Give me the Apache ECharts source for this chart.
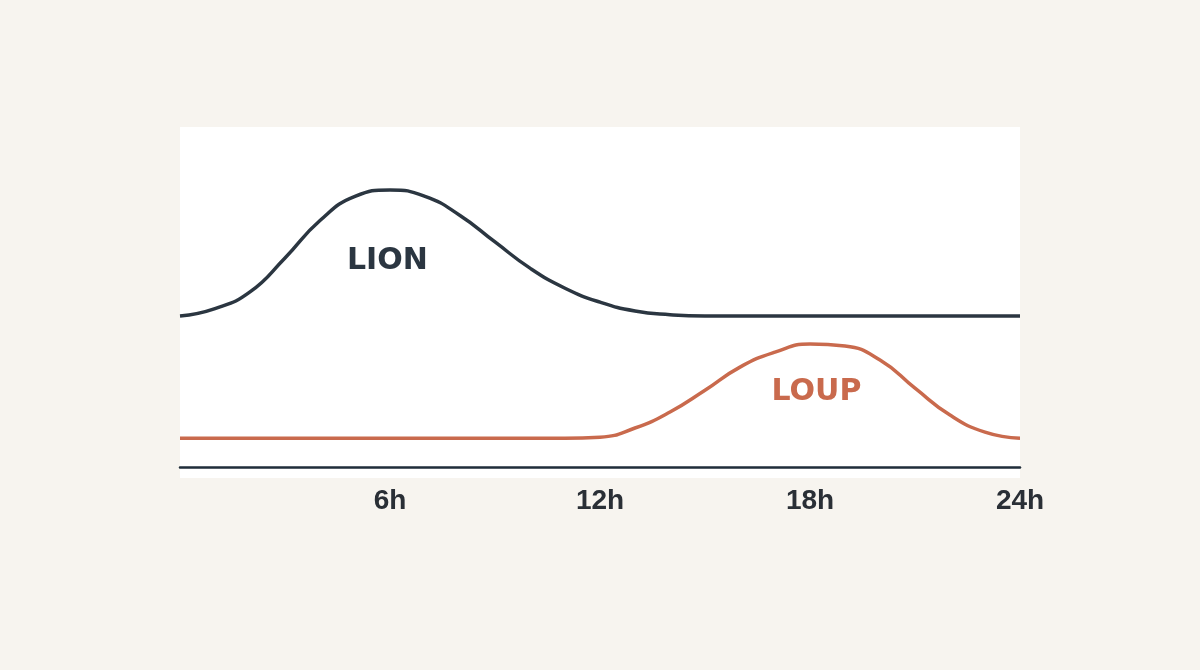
<!DOCTYPE html>
<html>
<head>
<meta charset="utf-8">
<style>
  html, body { margin: 0; padding: 0; background: #f7f4ef; }
  #chart { width: 1200px; height: 670px; }
</style>
<script src="https://cdn.jsdelivr.net/npm/echarts@6/dist/echarts.min.js"></script>
</head>
<body>
<div id="chart"></div>
<script>
// Hours of the day
const hours = [0,1,2,3,4,5,6,7,8,9,10,11,12,13,14,15,16,17,18,19,20,21,22,23,24];
// Activity level (arbitrary units) — lion (dark) and wolf (orange)
const lionValues = [44.4,46.6,51.5,61.5,72.5,79.6,81.5,79.6,74.0,66.2,58.5,52.6,48.5,45.9,44.8,44.4,44.4,44.4,44.4,44.4,44.4,44.4,44.4,44.4,44.4];
const loupValues = [8.5,8.5,8.5,8.5,8.5,8.5,8.5,8.5,8.5,8.5,8.5,8.5,8.8,11.5,16.2,22.6,29.4,33.8,36.2,35.6,31.5,23.2,15.3,10.3,8.5];
// Tick labels
const tickValues = [6, 12, 18, 24];
const tickSuffix = 'h';
// Series name labels placed in data space
const seriesLabels = ['LION', 'LOUP'];
const labelHours = [5.94, 18.2];
const labelLevels = [60.5, 22.0];

const lionColor = '#2b3641';
const loupColor = '#c96a4d';

const chart = echarts.init(document.getElementById('chart'), null, { renderer: 'canvas' });

const option = {
  backgroundColor: '#f7f4ef',
  animation: false,
  grid: {
    left: 180, right: 180, top: 127, bottom: 192,
    show: true, backgroundColor: '#ffffff', borderWidth: 0
  },
  xAxis: {
    type: 'value',
    min: 0, max: 24, interval: 6,
    axisLine: { show: true, onZero: true, lineStyle: { color: '#1f2d3a', width: 2.5 } },
    axisTick: { show: false },
    splitLine: { show: false },
    axisLabel: {
      margin: 9,
      fontFamily: 'Liberation Sans',
      fontWeight: 'bold',
      fontSize: 28,
      color: '#2a2f36',
      formatter: function (v) { return tickValues.indexOf(v) >= 0 ? v + tickSuffix : ''; }
    }
  },
  yAxis: {
    type: 'value',
    min: -3.2, max: 100,
    show: false,
    splitLine: { show: false }
  },
  series: [
    {
      name: 'LION',
      type: 'line',
      data: hours.map((h, i) => [h, lionValues[i]]),
      smooth: 0.5,
      showSymbol: false,
      lineStyle: { color: lionColor, width: 3.5 },
      silent: true
    },
    {
      name: 'LOUP',
      type: 'line',
      data: hours.map((h, i) => [h, loupValues[i]]),
      smooth: 0.5,
      showSymbol: false,
      lineStyle: { color: loupColor, width: 3.5 },
      silent: true
    },
    {
      type: 'scatter',
      symbolSize: 1,
      silent: true,
      itemStyle: { opacity: 0 },
      data: seriesLabels.map((name, i) => ({
        name: name,
        value: [labelHours[i], labelLevels[i]],
        label: { color: i === 0 ? lionColor : loupColor }
      })),
      label: {
        show: true,
        position: [0, 0],
        align: 'center',
        verticalAlign: 'middle',
        formatter: '{b}',
        fontFamily: 'DejaVu Sans',
        fontWeight: 'bold',
        fontSize: 30,
        opacity: 1
      }
    }
  ]
};

chart.setOption(option);
</script>
</body>
</html>
